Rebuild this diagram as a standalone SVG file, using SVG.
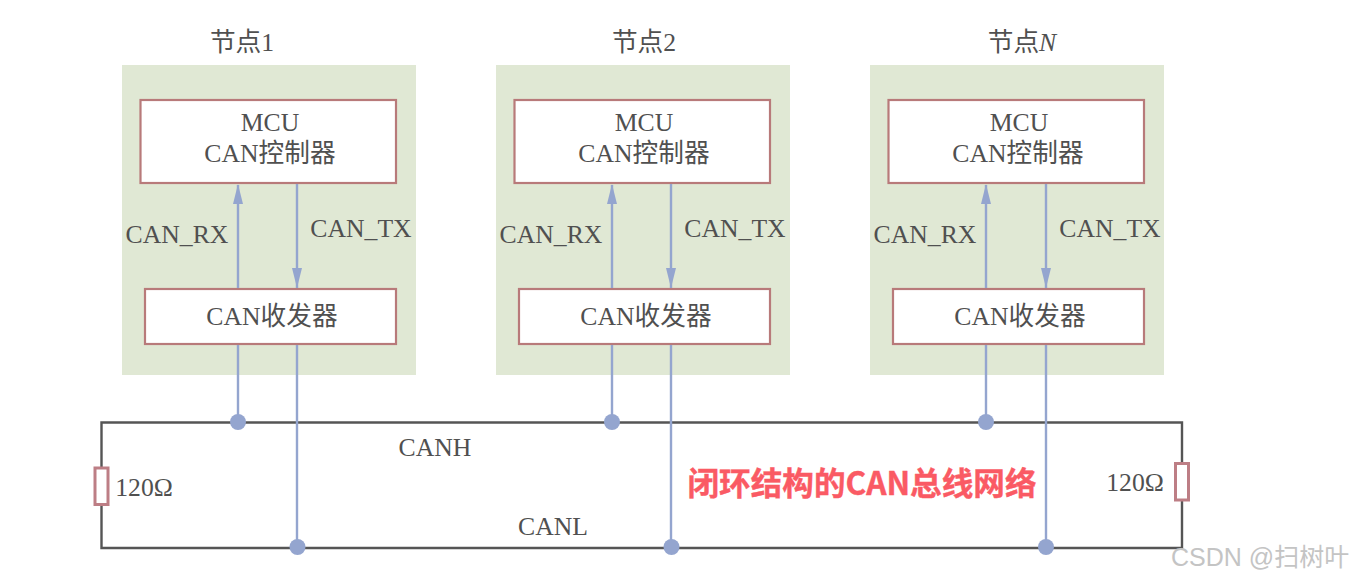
<svg xmlns="http://www.w3.org/2000/svg" width="1355" height="582" viewBox="0 0 1355 582">
<style>
text{font-family:"Liberation Serif","Noto Sans CJK SC",serif;font-size:25.7px;fill:#505050;text-anchor:middle}
.panel{fill:#e0e8d4}
.box{fill:#fff;stroke:#b87a7a;stroke-width:2.2}
.sig{stroke:#94a5cf;stroke-width:2.4;fill:none}
.bus{stroke:#555;stroke-width:2.4;fill:none}
.dot{fill:#94a5cf}
.res{fill:#fff;stroke:#bd7e85;stroke-width:3}
.title{fill:#fa5a64;font-family:"Noto Sans CJK SC","Liberation Sans",sans-serif;font-weight:700;font-size:31.6px;stroke:#fa5a64;stroke-width:.4}
.wm{fill:#c4c4c4;font-family:"Liberation Sans","Noto Sans CJK SC",sans-serif;font-size:25px;text-anchor:start}
</style>
<rect width="1355" height="582" fill="#fff"/>
<g id="node1">
<rect class="panel" x="122" y="65" width="294" height="310"/>
<text x="242" y="51">节点1</text>
<rect class="box" x="140.500" y="100" width="255.500" height="83"/>
<text x="270" y="131">MCU</text><text x="270" y="162">CAN控制器</text>
<rect class="box" x="145" y="289" width="251" height="55"/>
<text x="272" y="325">CAN收发器</text>
<text x="177" y="243">CAN_RX</text><text x="361" y="237">CAN_TX</text>
</g>
<g id="node2">
<rect class="panel" x="496" y="65" width="294" height="310"/>
<text x="644" y="51">节点2</text>
<rect class="box" x="514.500" y="100" width="255.500" height="83"/>
<text x="644" y="131">MCU</text><text x="644" y="162">CAN控制器</text>
<rect class="box" x="519" y="289" width="251" height="55"/>
<text x="646" y="325">CAN收发器</text>
<text x="551" y="243">CAN_RX</text><text x="735" y="237">CAN_TX</text>
</g>
<g id="nodeN">
<rect class="panel" x="870" y="65" width="294" height="310"/>
<text x="1022" y="51">节点<tspan font-style="italic">N</tspan></text>
<rect class="box" x="888.500" y="100" width="255.500" height="83"/>
<text x="1019" y="131">MCU</text><text x="1018" y="162">CAN控制器</text>
<rect class="box" x="893" y="289" width="251" height="55"/>
<text x="1020" y="325">CAN收发器</text>
<text x="925" y="243">CAN_RX</text><text x="1110" y="237">CAN_TX</text>
</g>
<g id="connectors">
<path class="bus" d="M101.500 474V422.500H1182V463M1182 500V548H101.500V505"/>
<path class="sig" d="M238 288V185M297 184V288"/>
<path d="M238 184l-5 20h10zM297 288l-5-20h10z" class="dot"/>
<path class="sig" d="M612 288V185M671 184V288"/>
<path d="M612 184l-5 20h10zM671 288l-5-20h10z" class="dot"/>
<path class="sig" d="M986 288V185M1046 184V288"/>
<path d="M986 184l-5 20h10zM1046 288l-5-20h10z" class="dot"/>
<path class="sig" d="M238 345V422M297 345V547M612 345V422M671 345V547M986 345V422M1046 345V547"/>
<circle class="dot" cx="238" cy="422" r="8"/><circle class="dot" cx="297.500" cy="547" r="8"/>
<circle class="dot" cx="612" cy="422" r="8"/><circle class="dot" cx="671.500" cy="547" r="8"/>
<circle class="dot" cx="986" cy="422" r="8"/><circle class="dot" cx="1046" cy="547" r="8"/>
</g>
<g id="bus-labels">
<rect class="res" x="95" y="468" width="13" height="36.500"/>
<rect class="res" x="1175.500" y="463.500" width="13" height="36.500"/>
<text x="435" y="456">CANH</text><text x="553" y="535">CANL</text>
<text x="144" y="496">120Ω</text><text x="1135" y="491">120Ω</text>
<text class="title" x="862" y="495">闭环结构的CAN总线网络</text>
<text class="wm" x="1171" y="566">CSDN @扫树叶</text>
</g>
</svg>
